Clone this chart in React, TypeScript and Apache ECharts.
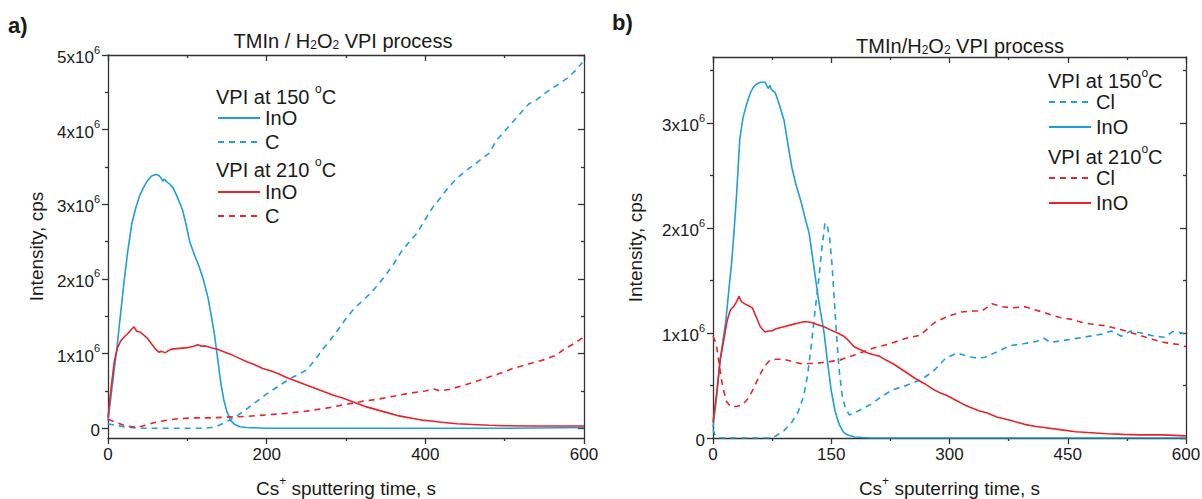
import React, { useEffect, useRef } from "react";
import * as echarts from "echarts";

// ---------------- data: time (s), intensity (10^6 cps) ----------------
// Panel a) TMIn / H2O2, VPI at 150 °C and 210 °C
const A_INO_150: [number, number][] = [
  [0, 0.1], [4, 0.45], [8, 0.8], [11, 1.05], [15, 1.45], [20, 1.94], [25, 2.38], [30, 2.74],
  [35, 2.95], [40, 3.12], [45, 3.23], [50, 3.32], [55, 3.38], [60, 3.4], [64, 3.39], [67, 3.35],
  [69, 3.31], [71, 3.34], [74, 3.3], [78, 3.27], [82, 3.22], [86, 3.13], [90, 3.03], [94, 2.92],
  [98, 2.75], [103, 2.5], [108, 2.35], [115, 2.16], [120, 2.0], [126, 1.75], [130, 1.52],
  [134, 1.27], [138, 0.95], [142, 0.62], [146, 0.38], [150, 0.22], [155, 0.1], [160, 0.05],
  [166, 0.02], [175, 0.01], [200, 0], [300, 0], [400, 0], [500, 0], [600, 0.01],
];
const A_C_150: [number, number][] = [
  [0, 0.06], [10, 0.04], [20, 0.02], [40, 0], [80, 0], [120, 0], [130, 0.01], [140, 0.04],
  [150, 0.09], [160, 0.15], [170, 0.22], [180, 0.3], [190, 0.38], [200, 0.46], [210, 0.53],
  [220, 0.6], [230, 0.67], [240, 0.72], [250, 0.78], [260, 0.9], [270, 1.05], [280, 1.18],
  [290, 1.32], [300, 1.47], [310, 1.6], [320, 1.7], [330, 1.8], [340, 1.92], [350, 2.05],
  [360, 2.2], [370, 2.37], [380, 2.5], [390, 2.62], [400, 2.8], [410, 2.97], [420, 3.1],
  [430, 3.24], [440, 3.35], [450, 3.44], [460, 3.52], [470, 3.6], [480, 3.68], [490, 3.86],
  [500, 3.98], [510, 4.1], [520, 4.22], [530, 4.34], [540, 4.4], [550, 4.48], [560, 4.56],
  [570, 4.62], [580, 4.7], [590, 4.8], [598, 4.9],
];
const A_INO_210: [number, number][] = [
  [0, 0.15], [4, 0.55], [8, 0.9], [12, 1.08], [16, 1.17], [20, 1.22], [25, 1.27], [30, 1.33],
  [33, 1.36], [36, 1.3], [40, 1.29], [45, 1.25], [50, 1.2], [55, 1.13], [60, 1.06], [64, 1.02],
  [68, 1.03], [72, 1.01], [76, 1.04], [80, 1.06], [90, 1.07], [100, 1.08], [108, 1.1],
  [113, 1.12], [118, 1.1], [124, 1.1], [130, 1.08], [138, 1.06], [145, 1.03], [155, 0.99],
  [165, 0.94], [175, 0.89], [185, 0.85], [195, 0.8], [205, 0.77], [215, 0.73], [225, 0.68],
  [235, 0.64], [245, 0.6], [255, 0.56], [265, 0.52], [275, 0.48], [285, 0.44], [295, 0.41],
  [305, 0.37], [315, 0.33], [325, 0.29], [335, 0.26], [345, 0.23], [355, 0.2], [365, 0.17],
  [375, 0.15], [385, 0.13], [395, 0.11], [405, 0.1], [420, 0.08], [440, 0.06], [460, 0.05],
  [480, 0.04], [500, 0.035], [530, 0.03], [560, 0.03], [600, 0.03],
];
const A_C_210: [number, number][] = [
  [0, 0.12], [10, 0.08], [20, 0.04], [30, 0.02], [40, 0.02], [50, 0.05], [60, 0.08], [75, 0.11],
  [90, 0.13], [110, 0.14], [130, 0.14], [150, 0.15], [175, 0.16], [200, 0.18], [225, 0.2],
  [250, 0.23], [275, 0.27], [300, 0.32], [320, 0.36], [340, 0.39], [360, 0.43], [380, 0.47],
  [400, 0.5], [410, 0.53], [418, 0.5], [430, 0.52], [450, 0.58], [470, 0.65], [490, 0.72],
  [510, 0.8], [530, 0.86], [550, 0.92], [565, 0.98], [575, 1.06], [590, 1.15], [600, 1.23],
];

// Panel b) TMIn/H2O2, VPI at 150 °C and 210 °C
const B_CL_150: [number, number][] = [
  [0, 0.08], [3, 0.02], [10, 0], [40, 0], [70, 0], [80, 0.02], [90, 0.07], [100, 0.15],
  [108, 0.25], [115, 0.4], [120, 0.6], [125, 0.9], [130, 1.25], [134, 1.5], [138, 1.8],
  [142, 2.05], [145, 2.02], [148, 1.9], [151, 1.65], [154, 1.3], [157, 0.95], [160, 0.65],
  [164, 0.4], [168, 0.28], [173, 0.22], [180, 0.24], [190, 0.28], [200, 0.32], [215, 0.4],
  [228, 0.46], [245, 0.5], [265, 0.56], [280, 0.64], [295, 0.76], [310, 0.81], [322, 0.78],
  [335, 0.76], [345, 0.77], [360, 0.82], [377, 0.88], [395, 0.9], [410, 0.92], [420, 0.95],
  [428, 0.91], [445, 0.93], [470, 0.96], [494, 0.99], [505, 1.02], [518, 0.97], [530, 1.02],
  [543, 1.0], [560, 0.97], [572, 0.96], [585, 1.02], [600, 0.99],
];
const B_INO_150: [number, number][] = [
  [0, 0.1], [4, 0.35], [9, 0.74], [13, 0.95], [16, 1.1], [20, 1.4], [24, 1.7], [27, 2.0],
  [30, 2.33], [34, 2.85], [38, 3.05], [43, 3.19], [47, 3.28], [51, 3.34], [55, 3.37],
  [60, 3.39], [66, 3.39], [70, 3.33], [72, 3.36], [74, 3.32], [79, 3.29], [84, 3.18],
  [90, 3.03], [95, 2.8], [100, 2.58], [105, 2.42], [111, 2.27], [116, 2.12], [122, 1.95],
  [128, 1.63], [134, 1.31], [141, 1.0], [145, 0.74], [150, 0.45], [155, 0.25], [160, 0.13],
  [165, 0.06], [170, 0.03], [180, 0.01], [200, 0], [300, 0], [400, 0], [500, 0], [600, 0],
];
const B_CL_210: [number, number][] = [
  [0, 0.97], [4, 0.9], [8, 0.7], [12, 0.5], [17, 0.35], [22, 0.3], [30, 0.3], [38, 0.32],
  [45, 0.38], [52, 0.48], [58, 0.58], [65, 0.68], [72, 0.74], [80, 0.75], [90, 0.75],
  [100, 0.73], [110, 0.71], [120, 0.71], [130, 0.71], [140, 0.72], [150, 0.73], [160, 0.74],
  [175, 0.78], [190, 0.82], [205, 0.86], [225, 0.9], [245, 0.95], [263, 0.98], [281, 1.1],
  [298, 1.16], [315, 1.2], [330, 1.21], [341, 1.21], [354, 1.28], [367, 1.25], [380, 1.24],
  [396, 1.25], [418, 1.2], [439, 1.15], [455, 1.13], [469, 1.1], [484, 1.08], [498, 1.07],
  [513, 1.04], [528, 1.01], [549, 0.96], [567, 0.92], [580, 0.9], [592, 0.89], [600, 0.87],
];
const B_INO_210: [number, number][] = [
  [0, 0.15], [5, 0.45], [9, 0.74], [14, 0.95], [18, 1.12], [22, 1.22], [26, 1.25], [30, 1.3],
  [33, 1.35], [36, 1.3], [40, 1.28], [45, 1.26], [50, 1.24], [55, 1.15], [60, 1.06], [66, 1.01],
  [70, 1.02], [74, 1.02], [80, 1.04], [90, 1.06], [100, 1.08], [111, 1.1], [117, 1.11],
  [125, 1.1], [133, 1.08], [141, 1.06], [149, 1.03], [158, 1.0], [166, 0.97], [173, 0.92],
  [179, 0.87], [187, 0.84], [196, 0.81], [205, 0.79], [211, 0.78], [220, 0.74], [230, 0.7],
  [240, 0.65], [250, 0.6], [258, 0.56], [268, 0.52], [278, 0.47], [288, 0.43], [298, 0.4],
  [308, 0.36], [318, 0.32], [327, 0.29], [337, 0.26], [347, 0.24], [360, 0.2], [377, 0.17],
  [395, 0.13], [410, 0.11], [420, 0.1], [440, 0.08], [460, 0.06], [480, 0.05], [500, 0.04],
  [520, 0.035], [543, 0.03], [570, 0.03], [600, 0.02],
];

// ---------------- axis ticks ----------------
const A_X_MAJOR = [0, 200, 400, 600];
const A_X_MINOR = [100, 300, 500];
const A_Y_MAJOR = [0, 1, 2, 3, 4, 5];
const A_Y_MINOR = [0.5, 1.5, 2.5, 3.5, 4.5];
const B_X_MAJOR = [0, 150, 300, 450, 600];
const B_X_MINOR = [75, 225, 375, 525];
const B_Y_MAJOR = [0, 1, 2, 3];
const B_Y_MINOR = [0.5, 1.5, 2.5, 3.5];

// ---------------- styles ----------------
const BLUE = "#1e9fd6";
const RED = "#e8232b";
const AXIS = "#333333";
const TXT = "#1a1a1a";
const FONT = "'Liberation Sans', Arial, Helvetica, sans-serif";
const DASH = [6, 5];

const richBase = (size: number) => ({
  n: { fontSize: size, fontFamily: FONT, color: TXT, lineHeight: size + 4, verticalAlign: "bottom" },
  sup: { fontSize: Math.round(size * 0.62), fontFamily: FONT, color: TXT, lineHeight: Math.round(size * 0.62), verticalAlign: "top" },
  sub: { fontSize: Math.round(size * 0.62), fontFamily: FONT, color: TXT, lineHeight: Math.round(size * 0.62), verticalAlign: "bottom" },
});

const lineSt = { color: AXIS, width: 1.3 };

function xAxes(grid: number, max: number, major: number[], minor: number[], name: string) {
  const base = { type: "value", gridIndex: grid, min: 0, max, splitLine: { show: false } };
  return [
    {
      ...base, position: "bottom",
      axisLine: { show: true, onZero: false, lineStyle: lineSt },
      axisTick: { show: true, inside: false, length: 6, customValues: major, lineStyle: lineSt },
      axisLabel: { show: true, customValues: major, fontSize: 17, color: TXT, fontFamily: FONT, margin: 8 },
      name, nameLocation: "middle", nameGap: 37,
      nameTextStyle: { fontSize: 19, color: TXT, fontFamily: FONT, rich: richBase(19) },
    },
    {
      ...base, position: "bottom",
      axisLine: { show: false, onZero: false },
      axisTick: { show: true, inside: false, length: 3, customValues: minor, lineStyle: lineSt },
      axisLabel: { show: false },
    },
    {
      ...base, position: "top",
      axisLine: { show: true, onZero: false, lineStyle: lineSt },
      axisTick: { show: true, inside: true, length: 6, customValues: major, lineStyle: lineSt },
      axisLabel: { show: false },
    },
    {
      ...base, position: "top",
      axisLine: { show: false, onZero: false },
      axisTick: { show: true, inside: true, length: 3, customValues: minor, lineStyle: lineSt },
      axisLabel: { show: false },
    },
  ];
}

function yAxes(grid: number, min: number, max: number, major: number[], minor: number[], nameGap: number) {
  const base = { type: "value", gridIndex: grid, min, max, splitLine: { show: false } };
  return [
    {
      ...base, position: "left",
      axisLine: { show: true, onZero: false, lineStyle: lineSt },
      axisTick: { show: true, inside: false, length: 6, customValues: major, lineStyle: lineSt },
      axisLabel: {
        show: true, customValues: major, margin: 8,
        formatter: (v: number) => (v === 0 ? "{n|0}" : `{n|${v}x10}{sup|6}`),
        rich: {
          n: { fontSize: 17, fontFamily: FONT, color: TXT, lineHeight: 22, verticalAlign: "bottom" },
          sup: { fontSize: 11, fontFamily: FONT, color: TXT, lineHeight: 11, verticalAlign: "top" },
        },
      },
      name: "Intensity, cps", nameLocation: "middle", nameGap,
      nameTextStyle: { fontSize: 19, color: TXT, fontFamily: FONT },
    },
    {
      ...base, position: "left",
      axisLine: { show: false, onZero: false },
      axisTick: { show: true, inside: false, length: 3, customValues: minor, lineStyle: lineSt },
      axisLabel: { show: false },
    },
    {
      ...base, position: "right",
      axisLine: { show: true, onZero: false, lineStyle: lineSt },
      axisTick: { show: true, inside: true, length: 6, customValues: major, lineStyle: lineSt },
      axisLabel: { show: false },
    },
    {
      ...base, position: "right",
      axisLine: { show: false, onZero: false },
      axisTick: { show: true, inside: true, length: 3, customValues: minor, lineStyle: lineSt },
      axisLabel: { show: false },
    },
  ];
}

function lineSeries(name: string, data: [number, number][], axis: number, color: string, dashed: boolean) {
  return {
    type: "line", name, data, xAxisIndex: axis, yAxisIndex: axis,
    symbol: "none", showSymbol: false, silent: true, smooth: false,
    lineStyle: { color, width: 1.6, type: dashed ? DASH : "solid" },
    itemStyle: { color },
  };
}

function legendGroup(names: string[], left: number, top: number, gap: number) {
  return {
    data: names, orient: "vertical", left, top, padding: 0,
    itemWidth: 42, itemHeight: 14, itemGap: gap, selectedMode: false,
    formatter: (n: string) => n.split("|")[0],
    itemStyle: { opacity: 0 },
    textStyle: { fontSize: 20, color: TXT, fontFamily: FONT, padding: [0, 0, 0, 0] },
  };
}

function label(text: string, x: number, y: number, size: number, align: string, bold = false) {
  return {
    type: "text", x, y, silent: true,
    style: {
      text, fill: TXT, fontSize: size, fontFamily: FONT, fontWeight: bold ? "bold" : "normal",
      align, textAlign: align, verticalAlign: "middle", textVerticalAlign: "middle",
      rich: richBase(size),
    },
  };
}

export default function App() {
  const ref = useRef<HTMLDivElement>(null);
  useEffect(() => {
    if (!ref.current) return;
    const chart = echarts.init(ref.current, undefined, { renderer: "svg" });
    chart.setOption({
      animation: false,
      backgroundColor: "#ffffff",
      grid: [
        { left: 108, top: 55, width: 476, height: 383, outerBoundsMode: "none", containLabel: false },
        { left: 713, top: 57, width: 473, height: 381, outerBoundsMode: "none", containLabel: false },
      ],
      xAxis: [
        ...xAxes(0, 600, A_X_MAJOR, A_X_MINOR, "{n|Cs}{sup|+}{n| sputtering time, s}"),
        ...xAxes(1, 600, B_X_MAJOR, B_X_MINOR, "{n|Cs}{sup|+}{n| sputerring time, s}"),
      ],
      yAxis: [
        ...yAxes(0, -0.13, 5, A_Y_MAJOR, A_Y_MINOR, 62),
        ...yAxes(1, 0, 3.63, B_Y_MAJOR, B_Y_MINOR, 68),
      ],
      legend: [
        legendGroup(["InO|a150", "C|a150"], 217, 108, 4),
        legendGroup(["InO|a210", "C|a210"], 217, 182, 4),
        legendGroup(["Cl|b150", "InO|b150"], 1048, 92, 5),
        legendGroup(["Cl|b210", "InO|b210"], 1048, 168, 5),
      ],
      graphic: [
        label("a)", 8, 25, 22, "left", true),
        label("b)", 612, 22, 22, "left", true),
        label("{n|TMIn / H}{sub|2}{n|O}{sub|2}{n| VPI process}", 343, 39, 20, "center"),
        label("{n|TMIn/H}{sub|2}{n|O}{sub|2}{n| VPI process}", 960, 44, 20, "center"),
        label("{n|VPI at 150 }{sup|o}{n|C}", 216, 95, 20, "left"),
        label("{n|VPI at 210 }{sup|o}{n|C}", 216, 168, 20, "left"),
        label("{n|VPI at 150}{sup|o}{n|C}", 1048, 79, 20, "left"),
        label("{n|VPI at 210}{sup|o}{n|C}", 1048, 155, 20, "left"),
      ],
      series: [
        lineSeries("InO|a150", A_INO_150, 0, BLUE, false),
        lineSeries("C|a150", A_C_150, 0, BLUE, true),
        lineSeries("C|a210", A_C_210, 0, RED, true),
        lineSeries("InO|a210", A_INO_210, 0, RED, false),
        lineSeries("Cl|b150", B_CL_150, 4, BLUE, true),
        lineSeries("InO|b150", B_INO_150, 4, BLUE, false),
        lineSeries("Cl|b210", B_CL_210, 4, RED, true),
        lineSeries("InO|b210", B_INO_210, 4, RED, false),
      ],
    });
    return () => chart.dispose();
  }, []);
  return (
    <div
      ref={ref}
      style={{ position: "absolute", left: 0, top: 0, width: 1202, height: 499, background: "#fff" }}
    />
  );
}
